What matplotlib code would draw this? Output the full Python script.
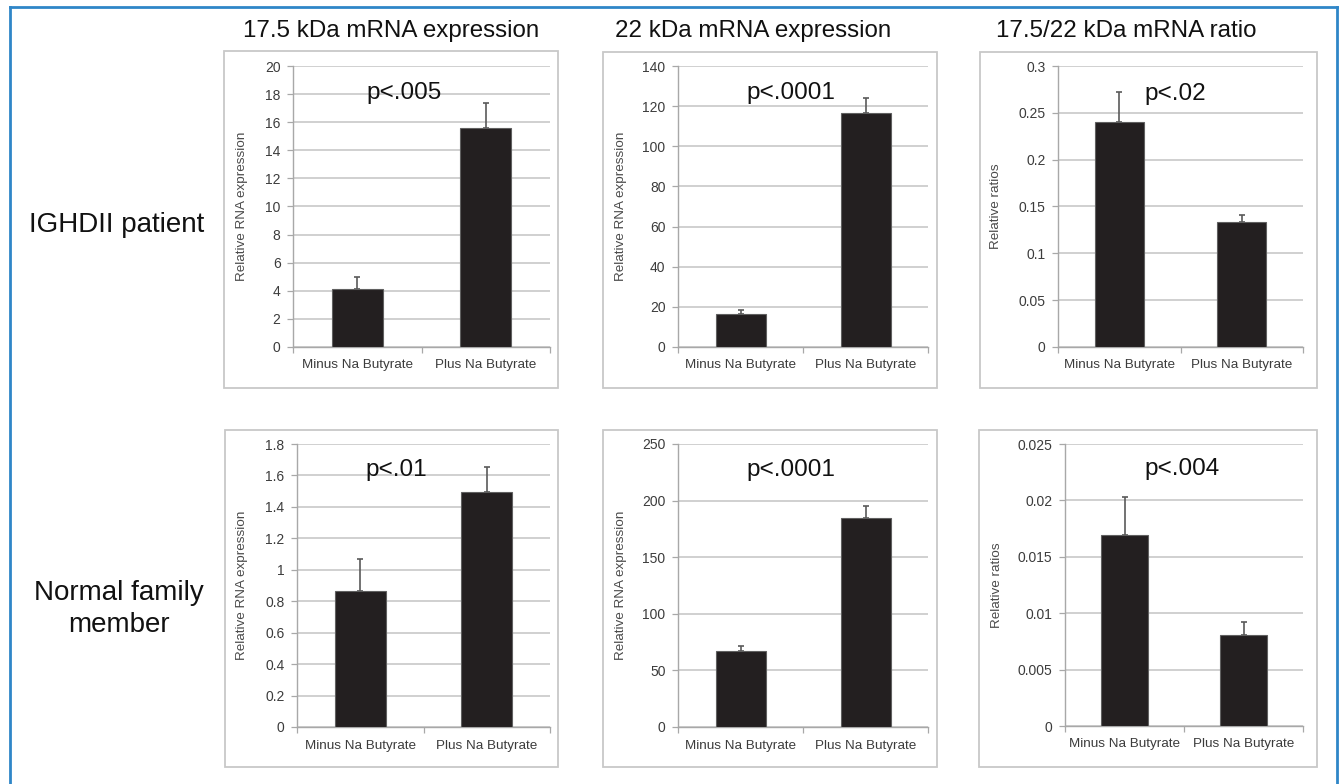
import matplotlib
matplotlib.use("Agg")
import matplotlib.pyplot as plt
from matplotlib.patches import Rectangle
from matplotlib.lines import Line2D
from matplotlib.ticker import FuncFormatter, FixedLocator

plt.rcParams['font.family'] = ['Liberation Sans', 'DejaVu Sans']

# ---------------- data ----------------
categories = ["Minus Na Butyrate", "Plus Na Butyrate"]
col_titles = ["17.5 kDa mRNA expression", "22 kDa mRNA expression", "17.5/22 kDa mRNA ratio"]
row_labels = ["IGHDII patient", "Normal family\nmember"]
ylabels = ["Relative RNA expression", "Relative RNA expression", "Relative ratios",
           "Relative RNA expression", "Relative RNA expression", "Relative ratios"]
pvalues = ["p<.005", "p<.0001", "p<.02", "p<.01", "p<.0001", "p<.004"]

p1_means = [4.1, 15.6];      p1_err = [0.9, 1.8]
p2_means = [16.5, 116.5];    p2_err = [1.9, 7.5]
p3_means = [0.240, 0.133];   p3_err = [0.032, 0.008]
p4_means = [0.867, 1.493];   p4_err = [0.20, 0.163]
p5_means = [67.4, 184.4];    p5_err = [4.4, 11.2]
p6_means = [0.0169, 0.0081]; p6_err = [0.0034, 0.0011]

p1_ticks = [0, 2, 4, 6, 8, 10, 12, 14, 16, 18, 20]
p2_ticks = [0, 20, 40, 60, 80, 100, 120, 140]
p3_ticks = [0, 0.05, 0.1, 0.15, 0.2, 0.25, 0.3]
p4_ticks = [0, 0.2, 0.4, 0.6, 0.8, 1, 1.2, 1.4, 1.6, 1.8]
p5_ticks = [0, 50, 100, 150, 200, 250]
p6_ticks = [0, 0.005, 0.01, 0.015, 0.02, 0.025]

means = [p1_means, p2_means, p3_means, p4_means, p5_means, p6_means]
errs = [p1_err, p2_err, p3_err, p4_err, p5_err, p6_err]
ticks = [p1_ticks, p2_ticks, p3_ticks, p4_ticks, p5_ticks, p6_ticks]

# ---------------- layout (pixels) ----------------
W, H = 1341, 784
fig = plt.figure(figsize=(W / 100, H / 100), dpi=100)

def fx(x):
    return x / W

def fy(y):
    return 1 - y / H

axes_px = [(293, 550, 66, 347), (678, 928, 66, 347), (1058, 1303, 66, 347),
           (297, 550, 444, 727), (678, 928, 444, 727), (1065, 1303, 444, 726)]
boxes_px = [(224, 558, 51, 388), (603, 937, 52, 388), (980, 1317, 52, 388),
            (225, 558, 430, 767), (603, 937, 430, 767), (979, 1317, 430, 767)]
ylabel_x_px = [248, 627, 1002, 248, 627, 1003]
pval_px = [(404, 93), (791, 93), (1175, 94), (396, 470), (791, 470), (1182, 469)]
title_px = [(391, 31), (753, 31), (1126, 31)]

grid_c = '#c4c4c4'
spine_c = '#a8a8a8'
text_c = '#3c3c3c'
bar_c = '#231f20'

# outer blue frame (no bottom edge)
blue = '#2f86c8'
fig.add_artist(Line2D([fx(10), fx(10)], [0, fy(7)], color=blue, lw=2.0, transform=fig.transFigure))
fig.add_artist(Line2D([fx(10), fx(1337)], [fy(7), fy(7)], color=blue, lw=2.0, transform=fig.transFigure))
fig.add_artist(Line2D([fx(1337), fx(1337)], [0, fy(7)], color=blue, lw=2.0, transform=fig.transFigure))

# panel boxes
for (l, r, t, b) in boxes_px:
    fig.add_artist(Rectangle((fx(l), fy(b)), fx(r) - fx(l), fy(t) - fy(b),
                             transform=fig.transFigure, fill=False,
                             edgecolor='#c8c8c8', lw=1.3))

fmt = FuncFormatter(lambda v, p: '{:g}'.format(round(v, 6)))

for i in range(6):
    l, r, t, b = axes_px[i]
    ax = fig.add_axes([fx(l), fy(b), fx(r) - fx(l), fy(t) - fy(b)])
    x = list(range(len(categories)))
    ax.errorbar(x, means[i], yerr=[[0] * len(x), errs[i]], fmt='none',
                ecolor='#5a5a5a', elinewidth=1.2, capsize=2.5, capthick=1.2, zorder=2)
    ax.bar(x, means[i], width=0.4, color=bar_c, edgecolor='#606060', lw=0.8, zorder=3)
    ax.set_xlim(-0.5, 1.5)
    ax.set_ylim(ticks[i][0], ticks[i][-1])
    ax.yaxis.set_major_locator(FixedLocator(ticks[i]))
    ax.yaxis.set_major_formatter(fmt)
    ax.yaxis.grid(True, color=grid_c, lw=1.1, zorder=0)
    ax.set_axisbelow(True)
    ax.set_xticks(x)
    ax.set_xticklabels(categories)
    ax.set_xticks([-0.5, 0.5, 1.5], minor=True)
    ax.tick_params(axis='x', which='major', length=0, pad=9, labelsize=9.7, labelcolor=text_c)
    ax.tick_params(axis='x', which='minor', length=4, width=0.9, color=spine_c, direction='out')
    ax.tick_params(axis='y', length=4, width=0.9, color=spine_c, pad=5, labelsize=10, labelcolor=text_c)
    for s in ['top', 'right']:
        ax.spines[s].set_visible(False)
    for s in ['left', 'bottom']:
        ax.spines[s].set_color(spine_c)
        ax.spines[s].set_linewidth(1.0)
    ax.set_ylabel(ylabels[i], fontsize=9.7, color='#4a4a4a')
    ax.yaxis.set_label_coords((ylabel_x_px[i] - l) / (r - l), 0.5)
    px, py = pval_px[i]
    fig.text(fx(px), fy(py), pvalues[i], ha='center', va='center', fontsize=17.5, color='#111111')

for j, (tx, ty) in enumerate(title_px):
    fig.text(fx(tx), fy(ty), col_titles[j], ha='center', va='center', fontsize=17.4, color='#111111')

fig.text(fx(117), fy(225), row_labels[0], ha='center', va='center', fontsize=20, color='#111111')
fig.text(fx(119), fy(609), row_labels[1], ha='center', va='center', fontsize=20,
         color='#111111', linespacing=1.3)

fig.savefig('out.png', dpi=100)
